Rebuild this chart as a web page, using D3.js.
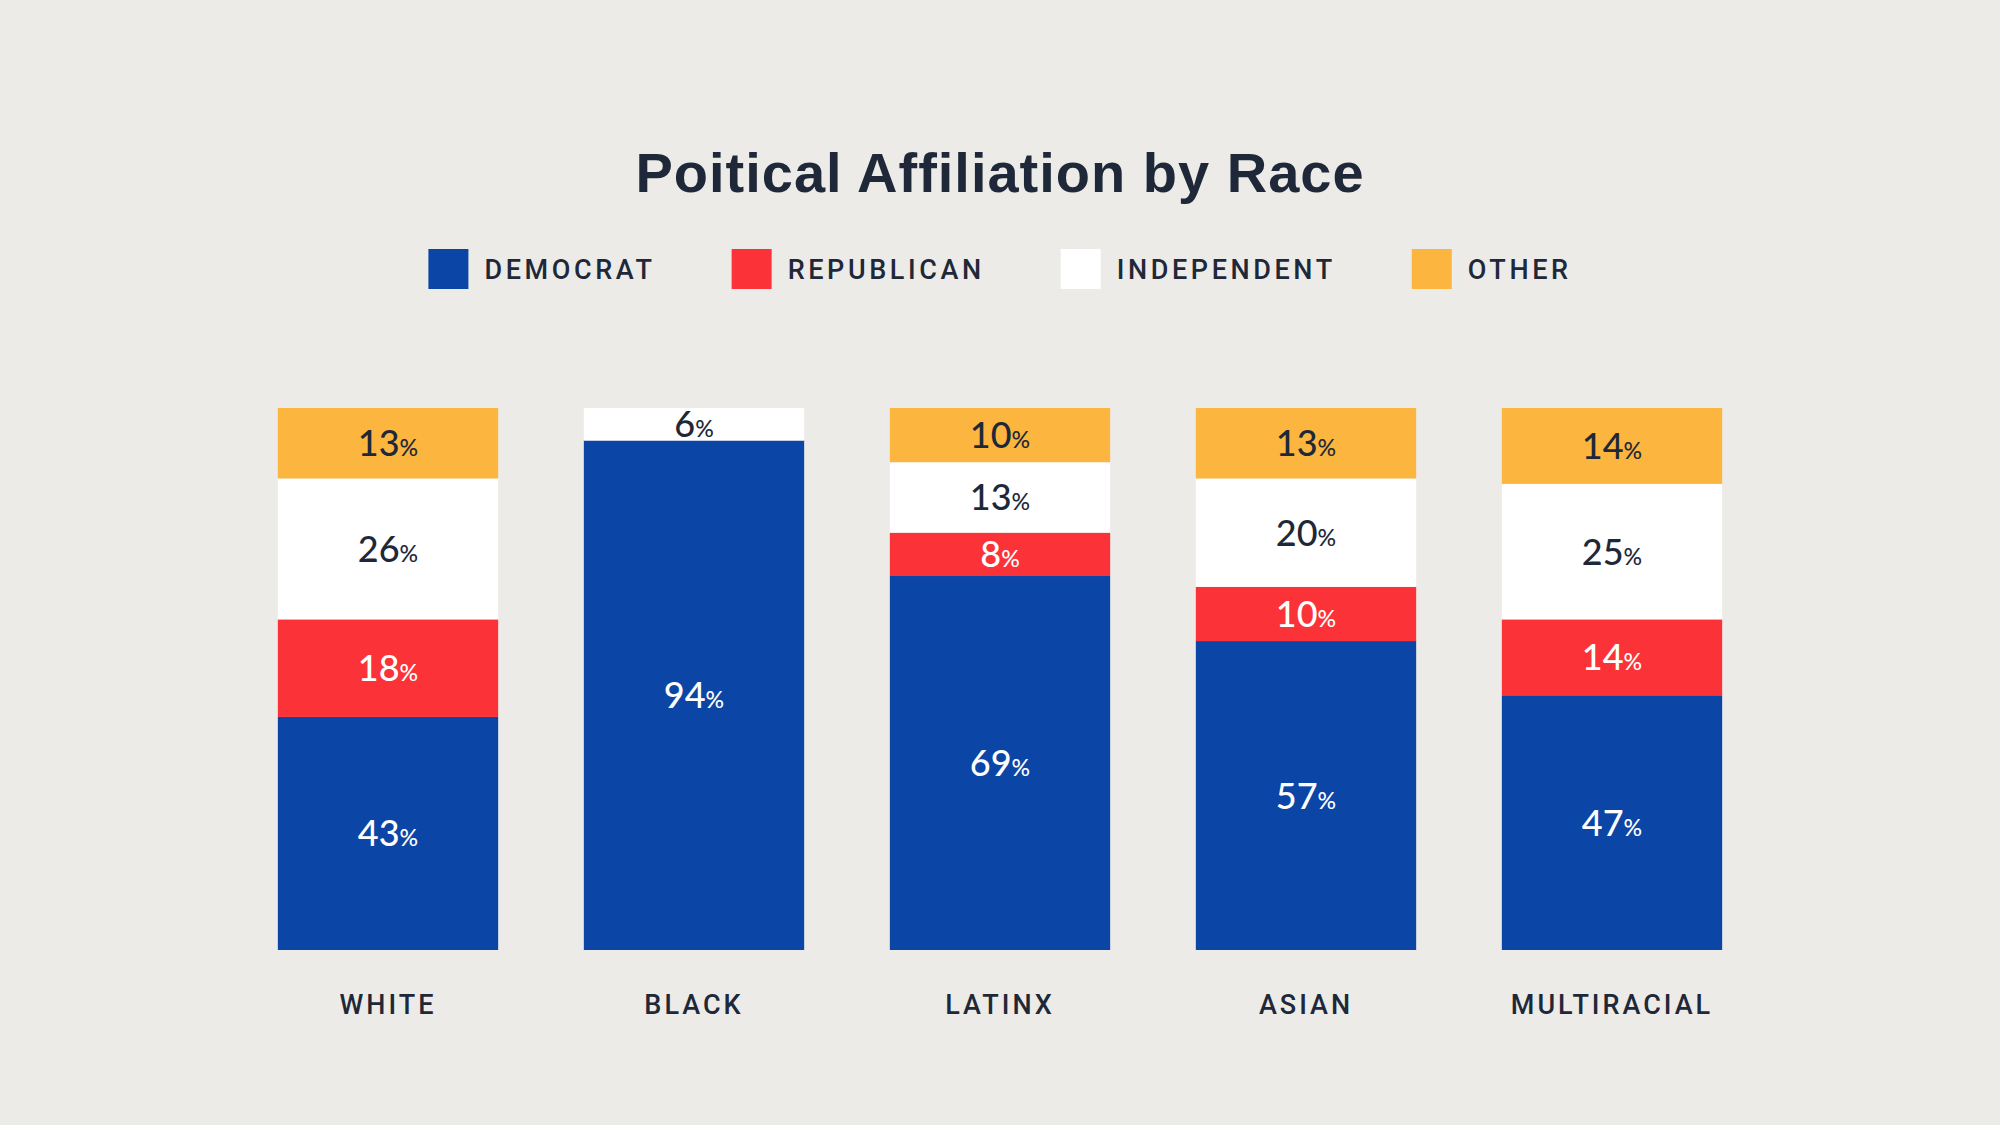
<!DOCTYPE html>
<html>
<head>
<meta charset="utf-8">
<script src="https://cdn.jsdelivr.net/npm/d3@7"></script>
<style>
  html, body { margin: 0; padding: 0; background: #ecebe7; }
  svg { display: block; }
</style>
</head>
<body>
<svg class="canvas" width="2000" height="1125"></svg>
<script>
'use strict';

// Data.
const races = ['WHITE', 'BLACK', 'LATINX', 'ASIAN', 'MULTIRACIAL'];
const parties = ['DEMOCRAT', 'REPUBLICAN', 'INDEPENDENT', 'OTHER'];
const democrat = [43, 94, 69, 57, 47];
const republican = [18, 0, 8, 10, 14];
const independent = [26, 6, 13, 20, 25];
const other = [13, 0, 10, 13, 14];

const partyColors = ['#0b45a6', '#fb3338', '#ffffff', '#fcb53e'];
const labelColors = ['#ffffff', '#ffffff', '#1e2838', '#1e2838'];
const ink = '#1e2838';

const width = 2000,
  height = 1125;

const rows = races.map((race, i) => ({
  race,
  DEMOCRAT: democrat[i],
  REPUBLICAN: republican[i],
  INDEPENDENT: independent[i],
  OTHER: other[i],
}));

const svg = d3.select('.canvas');

const xScale = d3
  .scaleBand()
  .domain(races)
  .range([235, 1765])
  .paddingInner(0.28)
  .paddingOuter(0.14);

const yScale = d3.scaleLinear().domain([0, 100]).range([950, 408]);

const color = d3.scaleOrdinal(parties, partyColors);
const labelColor = d3.scaleOrdinal(parties, labelColors);

// Title.
svg
  .append('text')
  .attr('x', width / 2)
  .attr('y', 192)
  .attr('text-anchor', 'middle')
  .attr('font-family', '"Liberation Sans", Arial, sans-serif')
  .attr('font-weight', 700)
  .attr('font-size', 56)
  .attr('letter-spacing', 1)
  .attr('fill', ink)
  .text('Poitical Affiliation by Race');

// Legend.
const legend = svg.append('g').attr('class', 'legend');
let cursor = 0;
parties.forEach(p => {
  const item = legend.append('g').attr('transform', `translate(${cursor}, 0)`);
  item
    .append('rect')
    .attr('x', 0)
    .attr('y', 249)
    .attr('width', 40)
    .attr('height', 40)
    .attr('fill', color(p));
  const t = item
    .append('text')
    .attr('x', 56)
    .attr('y', 279)
    .attr('font-family', 'Roboto, sans-serif')
    .attr('font-weight', 500)
    .attr('font-size', 27)
    .attr('letter-spacing', 3.6)
    .attr('fill', ink)
    .text(p);
  cursor += 56 + t.node().getComputedTextLength() + 76;
});
const lb = legend.node().getBBox();
legend.attr('transform', `translate(${width / 2 - lb.x - lb.width / 2}, 0)`);

// Stacked bars.
const stacked = d3.stack().keys(parties)(rows);

const layers = svg
  .selectAll('g.layer')
  .data(stacked)
  .enter()
  .append('g')
  .attr('class', 'layer')
  .attr('fill', d => color(d.key));

layers
  .selectAll('rect')
  .data(d => d.filter(s => s[1] > s[0]))
  .enter()
  .append('rect')
  .attr('x', d => xScale(d.data.race))
  .attr('y', d => yScale(d[1]))
  .attr('width', xScale.bandwidth())
  .attr('height', d => yScale(d[0]) - yScale(d[1]));

// Segment labels.
stacked.forEach(layer => {
  const lbl = svg
    .append('g')
    .selectAll('text')
    .data(layer.filter(s => s[1] > s[0]))
    .enter()
    .append('text')
    .attr('x', d => xScale(d.data.race) + xScale.bandwidth() / 2)
    .attr('y', d => (yScale(d[0]) + yScale(d[1])) / 2 + 13)
    .attr('text-anchor', 'middle')
    .attr('font-family', 'Lato, sans-serif')
    .attr('font-weight', 500)
    .attr('font-size', 36)
    .attr('fill', labelColor(layer.key));
  lbl.append('tspan').text(d => d[1] - d[0]);
  lbl.append('tspan').attr('font-size', 23).text('%');
});

// Category axis.
const xAxis = d3.axisBottom(xScale).tickSize(0).tickPadding(0);
const gx = svg
  .append('g')
  .attr('class', 'x-axis')
  .attr('transform', 'translate(0, 1014)')
  .call(xAxis);
gx.select('.domain').remove();
gx.selectAll('text')
  .attr('dy', 0)
  .attr('y', 0)
  .attr('font-family', 'Roboto, sans-serif')
  .attr('font-weight', 500)
  .attr('font-size', 27)
  .attr('letter-spacing', 3)
  .attr('fill', ink);
</script>
</body>
</html>
